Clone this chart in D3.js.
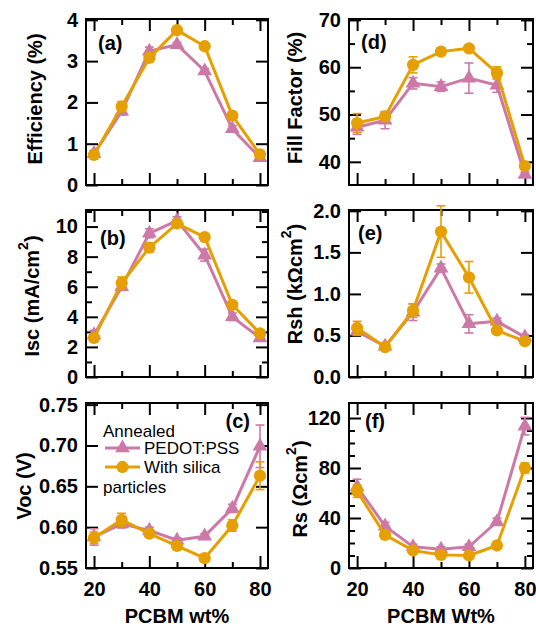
<!DOCTYPE html>
<html>
<head>
<meta charset="utf-8">
<script src="https://cdn.jsdelivr.net/npm/d3@7"></script>
<style>
  body { margin: 0; background: #fff; }
  svg { display: block; }
  text { font-family: "Liberation Sans", Arial, sans-serif; }
</style>
</head>
<body>
<svg id="chart" width="536" height="626"></svg>
<script>
// ---- data ----
const pcbmWt = [20, 30, 40, 50, 60, 70, 80];
const seriesNames = ["PEDOT:PSS", "With silica"];
const legendHeader = "Annealed";
const legendFooter = "particles";
const panelTags = ["(a)", "(b)", "(c)", "(d)", "(e)", "(f)"];
const xTitleLeft = "PCBM wt%";
const xTitleRight = "PCBM Wt%";
const xMajorTicks = [20, 40, 60, 80];
const xMinorTicks = [30, 50, 70];

// Efficiency (%)
const effPedot     = [0.76, 1.78, 3.24, 3.40, 2.76, 1.36, 0.66];
const effPedotErr  = [0.08, 0.08, 0.10, 0.05, 0.06, 0.08, 0.05];
const effSilica    = [0.73, 1.90, 3.08, 3.75, 3.36, 1.68, 0.74];
const effSilicaErr = [0.05, 0.12, 0.06, 0.05, 0.05, 0.05, 0.05];
const effTicks = [0, 1, 2, 3, 4];

// Isc (mA/cm2)
const iscPedot     = [2.8, 6.0, 9.55, 10.4, 8.1, 4.0, 2.6];
const iscPedotErr  = [0.3, 0.25, 0.3, 0.25, 0.4, 0.25, 0.2];
const iscSilica    = [2.6, 6.25, 8.6, 10.2, 9.3, 4.8, 2.9];
const iscSilicaErr = [0.2, 0.4, 0.3, 0.2, 0.15, 0.15, 0.15];
const iscTicks = [0, 2, 4, 6, 8, 10];
const iscMinorTicks = [1, 3, 5, 7, 9, 11];

// Voc (V)
const vocPedot     = [0.588, 0.604, 0.596, 0.584, 0.589, 0.623, 0.699];
const vocPedotErr  = [0.010, 0.005, 0.004, 0.003, 0.003, 0.005, 0.026];
const vocSilica    = [0.587, 0.609, 0.592, 0.577, 0.562, 0.602, 0.663];
const vocSilicaErr = [0.007, 0.008, 0.003, 0.003, 0.002, 0.007, 0.017];
const vocTicks = [0.55, 0.60, 0.65, 0.70, 0.75];

// Fill factor (%)
const ffPedot     = [47.3, 48.8, 56.6, 55.9, 57.7, 56.2, 37.3];
const ffPedotErr  = [1.5, 1.8, 1.2, 1.0, 3.2, 1.5, 0.5];
const ffSilica    = [48.2, 49.6, 60.5, 63.3, 64.0, 58.8, 39.1];
const ffSilicaErr = [2.0, 1.0, 1.7, 0.5, 0.5, 1.3, 0.5];
const ffTicks = [40, 50, 60, 70];
const ffMinorTicks = [45, 55, 65];

// Rsh (kOhm cm2)
const rshPedot     = [0.55, 0.37, 0.78, 1.31, 0.64, 0.67, 0.48];
const rshPedotErr  = [0.05, 0.03, 0.10, 0.05, 0.11, 0.04, 0.03];
const rshSilica    = [0.59, 0.36, 0.80, 1.75, 1.20, 0.56, 0.43];
const rshSilicaErr = [0.08, 0.03, 0.08, 0.31, 0.19, 0.03, 0.03];
const rshTicks = [0, 0.5, 1.0, 1.5, 2.0];

// Rs (Ohm cm2)
const rsPedot     = [65, 33.5, 17, 15, 17, 37, 113.5];
const rsPedotErr  = [6, 3, 2, 2, 2, 3, 7];
const rsSilica    = [61.5, 26.5, 14, 10.5, 10, 18, 80];
const rsSilicaErr = [5, 2, 2, 2, 1, 1, 4];
const rsTicks = [0, 40, 80, 120];
const rsMinorTicks = [10, 20, 30, 50, 60, 70, 90, 100, 110];

// ---- styling / layout ----
const colorPedot = "#CC79A7";
const colorSilica = "#E69F00";
const cols = [{ x0: 86, x1: 268 }, { x0: 349, x1: 533 }];
const rows = [{ y0: 19, y1: 185 }, { y0: 210, y1: 377 }, { y0: 403, y1: 568 }];

const panels = [
  { col: 0, row: 0, tag: panelTags[0], domain: [0, 4.02], ticks: effTicks, minor: [], fmt: d3.format("d"),
    title: ["Efficiency (%)"], titleX: 42, titleY: 99, tagPos: [12, 31], tagAnchor: "start",
    a: effPedot, aErr: effPedotErr, b: effSilica, bErr: effSilicaErr },
  { col: 0, row: 1, tag: panelTags[1], domain: [0, 11.1], ticks: iscTicks, minor: iscMinorTicks, fmt: d3.format("d"),
    title: ["Isc (mA/cm", "2", ")"], titleX: 39, titleY: 296, tagPos: [14, 35], tagAnchor: "start",
    a: iscPedot, aErr: iscPedotErr, b: iscSilica, bErr: iscSilicaErr },
  { col: 0, row: 2, tag: panelTags[2], domain: [0.55, 0.752], ticks: vocTicks, minor: [], fmt: d3.format(".2f"),
    title: ["Voc (V)"], titleX: 31, titleY: 486, tagPos: [-18, 25], tagAnchor: "end",
    a: vocPedot, aErr: vocPedotErr, b: vocSilica, bErr: vocSilicaErr, legend: true, xTitle: xTitleLeft },
  { col: 1, row: 0, tag: panelTags[3], domain: [35.1, 70.2], ticks: ffTicks, minor: ffMinorTicks, fmt: d3.format("d"),
    title: ["Fill Factor (%)"], titleX: 302, titleY: 98, tagPos: [12, 30], tagAnchor: "start",
    a: ffPedot, aErr: ffPedotErr, b: ffSilica, bErr: ffSilicaErr },
  { col: 1, row: 1, tag: panelTags[4], domain: [0, 2.01], ticks: rshTicks, minor: [], fmt: d3.format(".1f"),
    title: ["Rsh (k\u03A9cm", "2", ")"], titleX: 302, titleY: 284, tagPos: [9, 30], tagAnchor: "start",
    a: rshPedot, aErr: rshPedotErr, b: rshSilica, bErr: rshSilicaErr },
  { col: 1, row: 2, tag: panelTags[5], domain: [0, 132], ticks: rsTicks, minor: rsMinorTicks, fmt: d3.format("d"),
    title: ["Rs (\u03A9cm", "2", ")"], titleX: 307, titleY: 489, tagPos: [16, 25], tagAnchor: "start",
    a: rsPedot, aErr: rsPedotErr, b: rsSilica, bErr: rsSilicaErr, xTitle: xTitleRight }
];

const svg = d3.select("#chart");
const MAJOR = 12, MINOR = 6, FONT = 20;

function drawPanel(p) {
  const c = cols[p.col], r = rows[p.row];
  const w = c.x1 - c.x0, h = r.y1 - r.y0;
  const x = d3.scaleLinear().domain([17.1, 82.9]).range([0, w]);
  const y = d3.scaleLinear().domain(p.domain).range([h, 0]);
  const g = svg.append("g").attr("transform", `translate(${c.x0},${r.y0})`);

  const styleAxis = sel => {
    sel.select(".domain").remove();
    sel.selectAll(".tick line").attr("stroke", "#000").attr("stroke-width", 2);
    sel.selectAll(".tick text").attr("font-size", FONT).attr("font-weight", "bold")
      .attr("fill", "#000").attr("font-family", "Liberation Sans, Arial, sans-serif");
  };

  // y axes: labelled on the left, mirrored on the right, ticks pointing inward
  g.append("g").call(d3.axisLeft(y).tickValues(p.ticks).tickSize(-MAJOR).tickPadding(8).tickFormat(p.fmt)).call(styleAxis);
  g.append("g").call(d3.axisLeft(y).tickValues(p.minor).tickSize(-MINOR).tickFormat("")).call(styleAxis);
  g.append("g").attr("transform", `translate(${w},0)`)
    .call(d3.axisRight(y).tickValues(p.ticks).tickSize(-MAJOR).tickFormat("")).call(styleAxis);
  g.append("g").attr("transform", `translate(${w},0)`)
    .call(d3.axisRight(y).tickValues(p.minor).tickSize(-MINOR).tickFormat("")).call(styleAxis);

  // x axes
  const labelled = !!p.xTitle;
  g.append("g").attr("transform", `translate(0,${h})`)
    .call(d3.axisBottom(x).tickValues(xMajorTicks).tickSize(-MAJOR).tickPadding(14)
      .tickFormat(labelled ? d3.format("d") : "")).call(styleAxis);
  g.append("g").attr("transform", `translate(0,${h})`)
    .call(d3.axisBottom(x).tickValues(xMinorTicks).tickSize(-MINOR).tickFormat("")).call(styleAxis);
  g.append("g").call(d3.axisTop(x).tickValues(xMajorTicks).tickSize(-MAJOR).tickFormat("")).call(styleAxis);
  g.append("g").call(d3.axisTop(x).tickValues(xMinorTicks).tickSize(-MINOR).tickFormat("")).call(styleAxis);

  // frame
  g.append("rect").attr("width", w).attr("height", h)
    .attr("fill", "none").attr("stroke", "#000").attr("stroke-width", 2);

  // series
  const plotSeries = (vals, errs, color, shape) => {
    const pts = pcbmWt.map((k, i) => ({ k, v: vals[i], e: errs[i] }));
    const s = g.append("g");
    s.append("path").datum(pts)
      .attr("d", d3.line().x(d => x(d.k)).y(d => y(d.v)))
      .attr("fill", "none").attr("stroke", color).attr("stroke-width", 3).attr("stroke-linejoin", "round");
    const eb = s.selectAll(".eb").data(pts).join("g").attr("stroke", color).attr("stroke-width", 1.6);
    eb.append("line").attr("x1", d => x(d.k)).attr("x2", d => x(d.k))
      .attr("y1", d => y(d.v - d.e)).attr("y2", d => y(d.v + d.e));
    eb.append("line").attr("x1", d => x(d.k) - 4.5).attr("x2", d => x(d.k) + 4.5)
      .attr("y1", d => y(d.v - d.e)).attr("y2", d => y(d.v - d.e));
    eb.append("line").attr("x1", d => x(d.k) - 4.5).attr("x2", d => x(d.k) + 4.5)
      .attr("y1", d => y(d.v + d.e)).attr("y2", d => y(d.v + d.e));
    s.selectAll(".mk").data(pts).join("path")
      .attr("transform", d => `translate(${x(d.k)},${y(d.v)})`)
      .attr("d", shape).attr("fill", color);
  };
  const tri = d3.symbol(d3.symbolTriangle, 95)();
  const circ = d3.symbol(d3.symbolCircle, 118)();
  plotSeries(p.a, p.aErr, colorPedot, tri);
  plotSeries(p.b, p.bErr, colorSilica, circ);

  // panel tag
  g.append("text")
    .attr("x", p.tagAnchor === "end" ? w + p.tagPos[0] : p.tagPos[0])
    .attr("y", p.tagPos[1]).attr("text-anchor", p.tagAnchor)
    .attr("font-size", FONT).attr("font-weight", "bold").text(p.tag);

  // y title (rotated), with optional superscript
  const t = svg.append("text")
    .attr("transform", `translate(${p.titleX},${p.titleY}) rotate(-90)`)
    .attr("text-anchor", "middle").attr("font-size", FONT).attr("font-weight", "bold");
  t.append("tspan").text(p.title[0]);
  if (p.title.length > 1) {
    t.append("tspan").attr("font-size", 14).attr("dy", -11).text(p.title[1]);
    t.append("tspan").attr("dy", 11).text(p.title[2]);
  }

  // x title
  if (p.xTitle) {
    svg.append("text").attr("x", c.x0 + w / 2).attr("y", 623)
      .attr("text-anchor", "middle").attr("font-size", FONT).attr("font-weight", "bold").text(p.xTitle);
  }

  // legend
  if (p.legend) {
    const lg = g.append("g").attr("font-size", 17);
    lg.append("text").attr("x", 17).attr("y", 34).text(legendHeader);
    const items = [
      { name: seriesNames[0], color: colorPedot, shape: tri, yy: 45 },
      { name: seriesNames[1], color: colorSilica, shape: circ, yy: 64 }
    ];
    items.forEach(it => {
      lg.append("line").attr("x1", 19).attr("x2", 54).attr("y1", it.yy).attr("y2", it.yy)
        .attr("stroke", it.color).attr("stroke-width", 3);
      lg.append("path").attr("transform", `translate(36.5,${it.yy})`).attr("d", it.shape).attr("fill", it.color);
      lg.append("text").attr("x", 58).attr("y", it.yy + 6).text(it.name);
    });
    lg.append("text").attr("x", 17).attr("y", 90).text(legendFooter);
  }
}

panels.forEach(drawPanel);
</script>
</body>
</html>
